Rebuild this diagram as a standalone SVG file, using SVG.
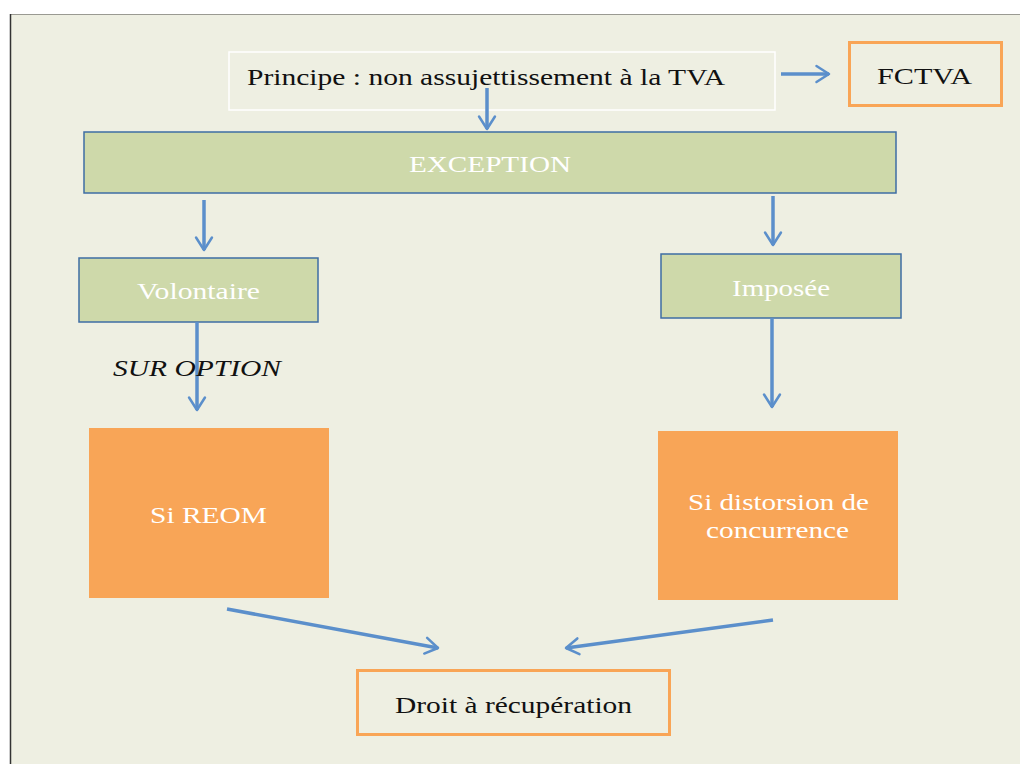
<svg xmlns="http://www.w3.org/2000/svg" width="1020" height="764" viewBox="0 0 1020 764">
<style>
.t{font-family:"Liberation Serif","Times New Roman",serif;font-size:24px;}
.dark{fill:#111;}
.white{fill:#ffffff;}
.green{fill:#CED9AA;stroke:#3E6DA4;stroke-width:1.5;}
.orangeFill{fill:#F8A557;stroke:none;}
.orangeBox{fill:none;stroke:#F9A556;stroke-width:3;}
.conn{stroke:#5B8FCB;stroke-width:3.5;fill:none;marker-end:url(#ah);}
</style>
<defs>
<marker id="ah" viewBox="0 0 10 10" refX="8.5" refY="5" markerWidth="6.5" markerHeight="6.5" orient="auto" markerUnits="strokeWidth">
<path d="M3,1.5 L8.5,5 L3,8.5" fill="none" stroke="#5B8FCB" stroke-width="1.1" stroke-linecap="round" stroke-linejoin="round"/>
</marker>
</defs>
<rect x="0" y="0" width="1020" height="764" fill="#ffffff"/>
<rect x="10" y="14" width="1010" height="750" fill="#EEEFE2"/>
<line x1="10" y1="14.5" x2="1020" y2="14.5" stroke="#9a9a92" stroke-width="1"/>
<line x1="10.5" y1="14" x2="10.5" y2="764" stroke="#333" stroke-width="1.5"/>

<g id="principe">
<rect x="229" y="52" width="546" height="58" fill="none" stroke="#ffffff" stroke-width="1.5"/>
<text class="t dark" x="247" y="85" textLength="478" lengthAdjust="spacingAndGlyphs">Principe : non assujettissement à la TVA</text>
</g>
<g id="fctva">
<rect class="orangeBox" x="849.5" y="42.5" width="152" height="63"/>
<text class="t dark" x="877" y="84" textLength="95" lengthAdjust="spacingAndGlyphs">FCTVA</text>
</g>
<g id="exception">
<rect class="green" x="84" y="132" width="812" height="61"/>
<text class="t white" x="409" y="172" textLength="162" lengthAdjust="spacingAndGlyphs">EXCEPTION</text>
</g>
<g id="volontaire">
<rect class="green" x="79" y="258" width="239" height="64"/>
<text class="t white" x="137" y="299" textLength="123" lengthAdjust="spacingAndGlyphs">Volontaire</text>
</g>
<g id="imposee">
<rect class="green" x="661" y="254" width="240" height="64"/>
<text class="t white" x="732" y="296" textLength="98" lengthAdjust="spacingAndGlyphs">Imposée</text>
</g>
<g id="sireom">
<rect class="orangeFill" x="89" y="428" width="240" height="170"/>
<text class="t white" x="150" y="523" textLength="117" lengthAdjust="spacingAndGlyphs">Si REOM</text>
</g>
<g id="sidistorsion">
<rect class="orangeFill" x="658" y="431" width="240" height="169"/>
<text class="t white" x="688" y="510" textLength="181" lengthAdjust="spacingAndGlyphs">Si distorsion de</text>
<text class="t white" x="706" y="538" textLength="143" lengthAdjust="spacingAndGlyphs">concurrence</text>
</g>
<g id="droit">
<rect class="orangeBox" x="357.5" y="670.5" width="312" height="64"/>
<text class="t dark" x="395" y="713" textLength="237" lengthAdjust="spacingAndGlyphs">Droit à récupération</text>
</g>

<g id="connectors">
<line class="conn" x1="487" y1="88" x2="487" y2="129"/>
<line class="conn" x1="781" y1="74" x2="829" y2="74"/>
<line class="conn" x1="204" y1="200" x2="204" y2="250"/>
<line class="conn" x1="773" y1="196" x2="773" y2="245"/>
<line class="conn" x1="197" y1="322" x2="197" y2="410"/>
<line class="conn" x1="772" y1="318" x2="772" y2="407"/>
<line class="conn" x1="227" y1="609" x2="438" y2="648"/>
<line class="conn" x1="773" y1="620" x2="566" y2="648"/>
</g>
<text class="t dark" x="113" y="376" font-style="italic" textLength="168" lengthAdjust="spacingAndGlyphs">SUR OPTION</text>
</svg>
